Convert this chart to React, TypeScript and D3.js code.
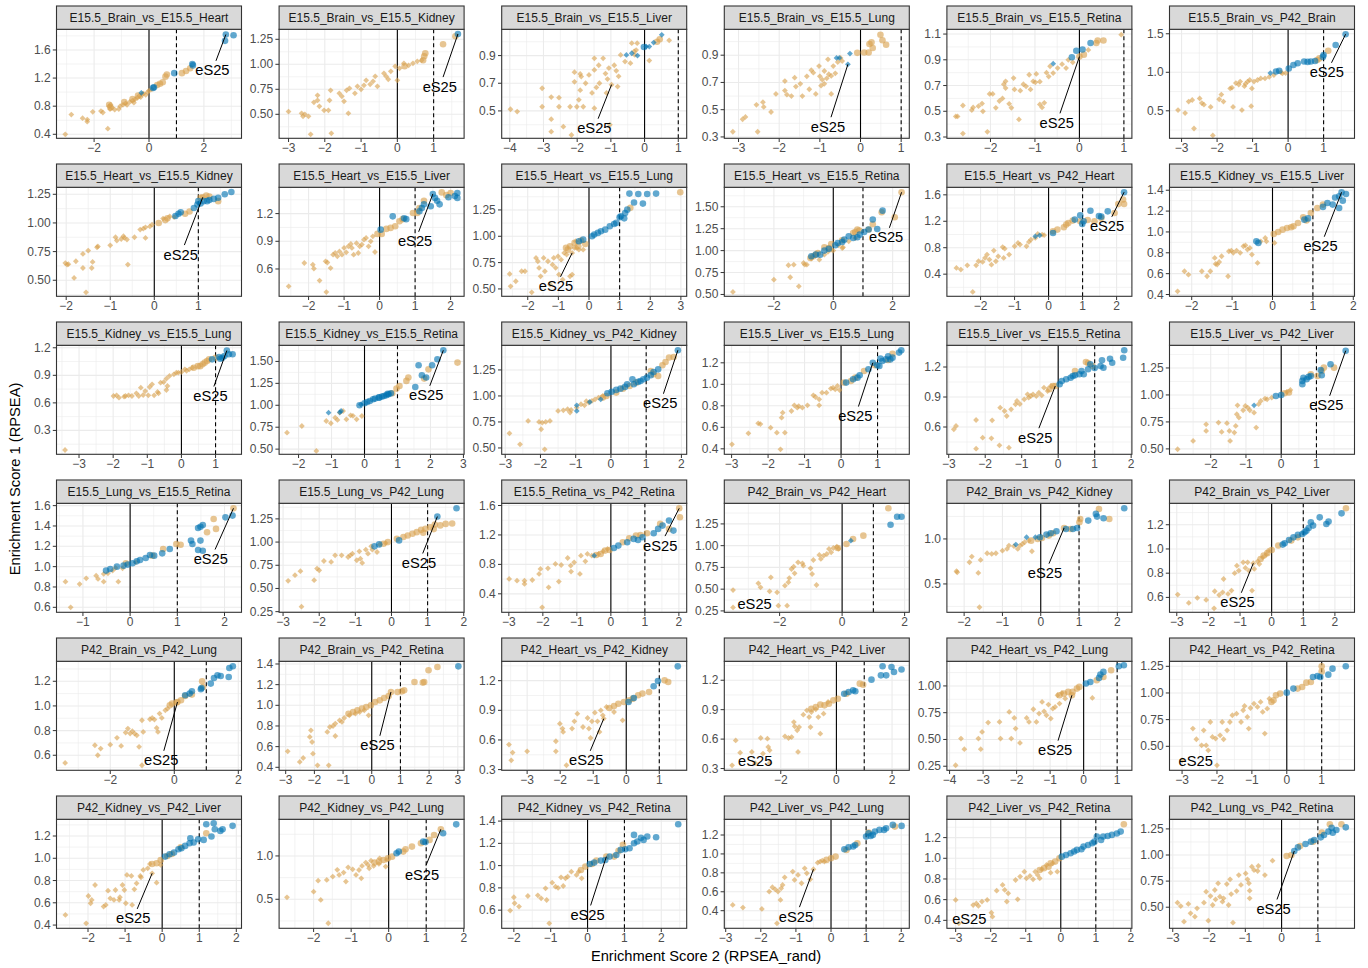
import React from 'react';
import * as d3 from 'd3';

// ---------------- DATA ----------------
const facetTitles: string[] = [
  'E15.5_Brain_vs_E15.5_Heart', 'E15.5_Brain_vs_E15.5_Kidney', 'E15.5_Brain_vs_E15.5_Liver', 'E15.5_Brain_vs_E15.5_Lung', 'E15.5_Brain_vs_E15.5_Retina', 'E15.5_Brain_vs_P42_Brain',
  'E15.5_Heart_vs_E15.5_Kidney', 'E15.5_Heart_vs_E15.5_Liver', 'E15.5_Heart_vs_E15.5_Lung', 'E15.5_Heart_vs_E15.5_Retina', 'E15.5_Heart_vs_P42_Heart', 'E15.5_Kidney_vs_E15.5_Liver',
  'E15.5_Kidney_vs_E15.5_Lung', 'E15.5_Kidney_vs_E15.5_Retina', 'E15.5_Kidney_vs_P42_Kidney', 'E15.5_Liver_vs_E15.5_Lung', 'E15.5_Liver_vs_E15.5_Retina', 'E15.5_Liver_vs_P42_Liver',
  'E15.5_Lung_vs_E15.5_Retina', 'E15.5_Lung_vs_P42_Lung', 'E15.5_Retina_vs_P42_Retina', 'P42_Brain_vs_P42_Heart', 'P42_Brain_vs_P42_Kidney', 'P42_Brain_vs_P42_Liver',
  'P42_Brain_vs_P42_Lung', 'P42_Brain_vs_P42_Retina', 'P42_Heart_vs_P42_Kidney', 'P42_Heart_vs_P42_Liver', 'P42_Heart_vs_P42_Lung', 'P42_Heart_vs_P42_Retina',
  'P42_Kidney_vs_P42_Liver', 'P42_Kidney_vs_P42_Lung', 'P42_Kidney_vs_P42_Retina', 'P42_Liver_vs_P42_Lung', 'P42_Liver_vs_P42_Retina', 'P42_Lung_vs_P42_Retina',
];

const xDomains: [number, number][] = [
  [-3.37, 3.37], [-3.26, 1.84], [-4.24, 1.25], [-3.35, 1.2], [-2.98, 1.18], [-3.34, 1.87],
  [-2.22, 1.98], [-2.83, 2.38], [-2.85, 3.19], [-3.67, 2.56], [-2.99, 2.45], [-2.55, 2.03],
  [-3.66, 1.76], [-2.59, 3.02], [-3.1, 2.15], [-3.2, 1.87], [-3.05, 2.02], [-3.17, 2.08],
  [-1.56, 2.36], [-3.11, 2.01], [-3.21, 2.23], [-3.77, 2.15], [-2.45, 2.38], [-3.23, 2.62],
  [-3.68, 2.1], [-3.23, 3.22], [-3.77, 1.83], [-4.03, 2.62], [-4.08, 1.44], [-3.36, 1.94],
  [-2.85, 2.14], [-2.92, 2.01], [-2.33, 2.69], [-3.04, 2.23], [-3.25, 2.03], [-3.09, 2.01],
];

const yDomains: [number, number][] = [
  [0.343, 1.894], [0.26, 1.35], [0.302, 1.09], [0.29, 1.09], [0.29, 1.137], [0.143, 1.558],
  [0.36, 1.311], [0.304, 1.485], [0.43, 1.465], [0.479, 1.722], [0.065, 1.714], [0.383, 1.428],
  [0.04, 1.227], [0.441, 1.684], [0.439, 1.487], [0.349, 1.363], [0.327, 1.417], [0.45, 1.46],
  [0.551, 1.623], [0.243, 1.418], [0.149, 1.63], [0.234, 1.487], [0.185, 1.396], [0.477, 1.377],
  [0.478, 1.362], [0.371, 1.426], [0.293, 1.396], [0.282, 1.393], [0.212, 1.23], [0.275, 1.297],
  [0.371, 1.35], [0.165, 1.423], [0.437, 1.416], [0.214, 1.366], [0.323, 1.377], [0.298, 1.342],
];

const xTickValues: number[][] = [
  [-2, 0, 2], [-3, -2, -1, 0, 1], [-4, -3, -2, -1, 0, 1], [-3, -2, -1, 0, 1], [-2, -1, 0, 1], [-3, -2, -1, 0, 1],
  [-2, -1, 0, 1], [-2, -1, 0, 1, 2], [-2, -1, 0, 1, 2, 3], [-2, 0, 2], [-2, -1, 0, 1, 2], [-2, -1, 0, 1, 2],
  [-3, -2, -1, 0, 1], [-2, -1, 0, 1, 2, 3], [-3, -2, -1, 0, 1, 2], [-3, -2, -1, 0, 1], [-3, -2, -1, 0, 1, 2], [-2, -1, 0, 1],
  [-1, 0, 1, 2], [-3, -2, -1, 0, 1, 2], [-3, -2, -1, 0, 1, 2], [-2, 0, 2], [-2, -1, 0, 1, 2], [-3, -2, -1, 0, 1, 2],
  [-2, 0, 2], [-3, -2, -1, 0, 1, 2, 3], [-3, -2, -1, 0, 1], [-2, 0, 2], [-4, -3, -2, -1, 0, 1], [-3, -2, -1, 0, 1],
  [-2, -1, 0, 1, 2], [-2, -1, 0, 1, 2], [-2, -1, 0, 1, 2], [-3, -2, -1, 0, 1, 2], [-3, -2, -1, 0, 1, 2], [-3, -2, -1, 0, 1],
];

const yTickValues: number[][] = [
  [0.4, 0.8, 1.2, 1.6], [0.5, 0.75, 1, 1.25], [0.5, 0.7, 0.9], [0.3, 0.5, 0.7, 0.9], [0.3, 0.5, 0.7, 0.9, 1.1], [0.5, 1, 1.5],
  [0.5, 0.75, 1, 1.25], [0.6, 0.9, 1.2], [0.5, 0.75, 1, 1.25], [0.5, 0.75, 1, 1.25, 1.5], [0.4, 0.8, 1.2, 1.6], [0.4, 0.6, 0.8, 1, 1.2, 1.4],
  [0.3, 0.6, 0.9, 1.2], [0.5, 0.75, 1, 1.25, 1.5], [0.5, 0.75, 1, 1.25], [0.4, 0.6, 0.8, 1, 1.2], [0.6, 0.9, 1.2], [0.5, 0.75, 1, 1.25],
  [0.6, 0.8, 1, 1.2, 1.4, 1.6], [0.25, 0.5, 0.75, 1, 1.25], [0.4, 0.8, 1.2, 1.6], [0.25, 0.5, 0.75, 1, 1.25], [0.5, 1], [0.6, 0.8, 1, 1.2],
  [0.6, 0.8, 1, 1.2], [0.4, 0.6, 0.8, 1, 1.2, 1.4], [0.3, 0.6, 0.9, 1.2], [0.3, 0.6, 0.9, 1.2], [0.25, 0.5, 0.75, 1], [0.5, 0.75, 1, 1.25],
  [0.4, 0.6, 0.8, 1, 1.2], [0.5, 1], [0.6, 0.8, 1, 1.2, 1.4], [0.4, 0.6, 0.8, 1, 1.2], [0.4, 0.6, 0.8, 1, 1.2], [0.5, 0.75, 1, 1.25],
];

const yTickDecimals: number[] = [
  1, 2, 1, 1, 1, 1,
  2, 1, 2, 2, 1, 1,
  1, 2, 2, 1, 1, 2,
  1, 2, 1, 2, 1, 1,
  1, 1, 1, 1, 2, 2,
  1, 1, 1, 1, 1, 2,
];

// flat [x, y, x, y, ...] per facet
const orangeDiamonds: number[][] = [
  [-3.05,0.40,-2.83,0.68,-2.42,0.63,-2.25,0.61,-2.25,0.58,-2.05,0.72,-1.75,0.73,-1.68,0.71,-1.5,0.48,-1.45,0.80,-1.42,0.76,-1.40,0.82,-1.35,0.78,-1.25,0.75,-1.1,0.76,-1.05,0.80,-0.95,0.82,-0.85,0.84,-0.8,0.82,-0.7,0.86,-0.6,0.88,-0.55,0.85,-0.5,0.90,-0.42,0.92,-0.35,0.95,-0.3,0.93,-0.25,0.97,-0.2,0.98,-0.12,0.96,-0.05,1.0,0.0,1.02,0.1,1.04],
  [-3.0,0.527,-2.64,0.51,-2.6,0.48,-2.55,0.50,-2.45,0.48,-2.39,0.30,-2.2,0.69,-2.2,0.64,-2.15,0.58,-2.02,0.54,-1.84,0.74,-1.87,0.64,-1.9,0.54,-1.82,0.31,-1.6,0.71,-1.53,0.68,-1.47,0.63,-1.35,0.51,-1.32,0.76,-1.1,0.78,-1.17,0.71,-0.92,0.79,-0.86,0.84,-0.67,0.83,-0.61,0.88,-0.55,0.78,-0.37,0.91,-0.31,0.88,-0.25,0.85,-0.18,0.93,-0.06,0.98,0,0.84,0.06,0.96,0.18,1.01,0.31,0.99,0.43,1.01,0.55,1.03,0.67,1.04,-1.4,0.74,-1.0,0.75,-0.75,0.80,-2.3,0.62],
  [-3.98,0.512,-3.78,0.495,-3.04,0.664,-3.04,0.53,-2.77,0.60,-2.77,0.44,-2.77,0.35,-2.54,0.596,-2.54,0.53,-2.41,0.386,-2.21,0.53,-2.17,0.326,-2.08,0.71,-2.08,0.78,-1.91,0.767,-1.91,0.65,-1.88,0.748,-1.95,0.58,-2.01,0.53,-1.82,0.53,-1.75,0.70,-1.65,0.76,-1.56,0.63,-1.49,0.52,-1.49,0.796,-1.49,0.88,-1.43,0.67,-1.36,0.83,-1.34,0.70,-1.23,0.88,-1.16,0.77,-1.13,0.63,-1.10,0.73,-1.06,0.81,-1.03,0.40,-0.9,0.83,-0.84,0.79,-0.8,0.676,-0.77,0.75,-0.71,0.905,-0.58,0.857,-0.42,0.845,-0.38,0.99,-0.29,0.905,-0.22,0.99,-0.25,0.94,0.14,0.864,-0.31,0.93,0.73,1.01,-0.98,0.69],
  [-3.14,0.338,-2.83,0.447,-2.9,0.43,-2.53,0.338,-2.56,0.536,-2.4,0.555,-2.38,0.52,-2.2,0.483,-2.08,0.616,-1.86,0.71,-1.86,0.64,-1.81,0.61,-1.7,0.60,-1.62,0.735,-1.59,0.67,-1.48,0.69,-1.43,0.60,-1.32,0.745,-1.26,0.65,-1.21,0.79,-1.16,0.772,-1.1,0.616,-1.0,0.745,-0.94,0.72,-0.89,0.784,-0.83,0.73,-0.8,0.87,-0.78,0.76,-0.72,0.748,-0.72,0.616,-0.67,0.82,-0.62,0.767,-0.56,0.85,-0.49,0.88,-0.45,0.857,-1.02,0.82,-0.97,0.676,-0.89,0.69],
  [0.94,1.095,-2.78,0.46,-2.74,0.46,-2.62,0.327,-2.62,0.545,-2.42,0.51,-2.39,0.53,-2.27,0.54,-2.19,0.56,-2.17,0.50,-2.07,0.34,-2.02,0.635,-1.95,0.635,-1.88,0.527,-1.8,0.58,-1.73,0.60,-1.7,0.71,-1.66,0.733,-1.66,0.68,-1.58,0.558,-1.53,0.527,-1.48,0.758,-1.46,0.67,-1.36,0.437,-1.33,0.66,-1.26,0.71,-1.2,0.694,-1.13,0.784,-1.1,0.67,-1.04,0.733,-0.99,0.725,-0.97,0.79,-0.89,0.73,-0.89,0.553,-0.84,0.53,-0.79,0.566,-0.74,0.80,-0.69,0.77,-0.66,0.85,-0.59,0.797,-0.49,0.836,-0.39,0.866,-0.3,0.836,-0.25,0.90,-0.15,0.88,0.2,0.977],
  [-3.1,0.51,-2.9,0.47,-2.8,0.62,-2.7,0.64,-2.65,0.27,-2.49,0.66,-2.43,0.60,-2.37,0.58,-2.18,0.55,-2.12,0.18,-1.94,0.65,-1.88,0.71,-1.82,0.62,-1.63,0.79,-1.58,0.80,-1.55,0.55,-1.47,0.86,-1.39,0.84,-1.35,0.88,-1.3,0.51,-1.23,0.82,-1.2,0.85,-1.14,0.88,-1.08,0.90,-1.02,0.79,-1.04,0.56,-0.96,0.88,-0.86,0.90,-0.77,0.92,-0.65,0.92,-0.53,0.94,-0.4,0.965,-0.16,0.985,-0.07,0.99,-0.2,1.0],
  [-2.02,0.65,-1.98,0.636,-1.95,0.64,-1.82,0.52,-1.78,0.666,-1.62,0.73,-1.62,0.607,-1.55,0.395,-1.5,0.759,-1.4,0.66,-1.42,0.607,-1.3,0.788,-1.28,0.795,-1.0,0.805,-0.88,0.875,-0.85,0.846,-0.75,0.86,-0.7,0.884,-0.68,0.87,-0.62,0.855,-0.6,0.637,-0.45,0.875,-0.32,0.942,-0.25,0.95,-0.2,0.962,-0.1,0.97,-0.05,0.985,-0.2,0.869,0.2,1.038,0.35,1.058,0.45,1.05],
  [-2.56,0.412,-2.12,0.665,-1.88,0.647,-1.85,0.604,-1.69,0.474,-1.5,0.35,-1.52,0.683,-1.47,0.67,-1.38,0.61,-1.31,0.755,-1.25,0.773,-1.19,0.737,-1.13,0.79,-1.06,0.755,-1.0,0.828,-0.94,0.78,-0.88,0.846,-0.81,0.871,-0.78,0.828,-0.73,0.755,-0.65,0.88,-0.56,0.846,-0.5,0.864,-0.44,0.918,-0.38,0.936,-0.25,0.90,-0.13,0.784,-0.31,0.846,-0.19,0.954,-0.6,0.773],
  [-2.59,0.642,-2.56,0.525,-2.39,0.573,-2.2,0.668,-2.09,0.668,-1.87,0.468,-1.73,0.794,-1.67,0.763,-1.63,0.699,-1.58,0.62,-1.48,0.794,-1.44,0.668,-1.34,0.763,-1.27,0.541,-1.19,0.73,-1.15,0.794,-1.09,0.70,-1.01,0.81,-0.98,0.636,-0.91,0.778,-0.86,0.589,-0.81,0.842,-0.73,0.826,-0.62,0.62,-0.55,0.636,-0.47,0.889,-0.43,0.953,-0.4,0.889,-0.33,0.873,-0.19,0.873,-0.55,0.842],
  [-3.38,0.529,-2.0,0.669,-1.51,0.833,-1.33,0.84,-1.45,0.696,-1.16,0.593,-0.96,0.84,-1.0,0.859,-0.89,0.84,-0.74,0.909,-0.47,0.897,-0.3,0.954,-0.18,0.985,-0.07,1.011,0.0,1.0,0.18,1.061,0.33,1.038,0.52,1.106,0.74,1.144,0.3,1.03],
  [-2.71,0.494,-2.58,0.469,-2.39,0.534,-2.23,0.131,-2.13,0.534,-2.06,0.595,-1.94,0.585,-1.87,0.645,-1.81,0.696,-1.74,0.62,-1.68,0.544,-1.61,0.756,-1.55,0.595,-1.48,0.67,-1.35,0.81,-1.32,0.645,-1.29,0.786,-1.16,0.696,-1.0,0.822,-0.9,0.872,-0.84,0.847,-0.65,0.822,-0.58,0.887,-0.52,0.922,-0.39,0.948,-0.32,1.008,-0.19,0.998,-0.13,0.99],
  [-2.35,0.431,-2.18,0.623,-2.08,0.59,-1.75,0.623,-1.62,0.575,-1.54,0.623,-1.43,0.751,-1.41,0.693,-1.37,0.687,-1.32,0.712,-1.26,0.767,-1.1,0.575,-1.08,0.815,-1.02,0.821,-0.97,0.80,-0.89,0.821,-0.8,0.80,-0.72,0.863,-0.67,0.872,-0.62,0.831,-0.56,0.847,-0.51,0.783,-0.37,0.703,-0.29,0.91,-0.18,0.942,-0.15,0.91,0.05,0.895],
  [-3.41,0.087,-1.99,0.675,-1.9,0.682,-1.83,0.657,-1.68,0.668,-1.64,0.675,-1.55,0.682,-1.45,0.675,-1.32,0.704,-1.25,0.675,-1.19,0.766,-1.12,0.686,-1.06,0.729,-0.97,0.682,-0.93,0.773,-0.86,0.802,-0.8,0.682,-0.7,0.719,-0.61,0.82,-0.52,0.827,-0.44,0.864,-0.41,0.784,-0.35,0.893,-0.22,0.911,-0.15,0.929,-0.09,0.929,0.0,0.936,0.1,0.965,0.23,0.965,0.32,0.983,-0.44,0.74,-0.67,0.704,0.15,0.95],
  [-2.35,0.688,-1.9,0.764,-1.46,0.479,-1.16,0.821,-1.02,0.795,-0.89,0.859,-0.82,0.833,-0.75,0.916,-0.65,0.935,-0.55,0.84,-0.42,0.886,-0.35,0.88,-0.24,0.84,-0.08,0.878],
  [-2.88,0.641,-2.58,0.535,-2.35,0.76,-2.04,0.75,-1.98,0.68,-1.95,0.743,-1.85,0.75,-1.88,0.487,-1.73,0.76,-1.5,0.856,-1.35,0.862,-1.23,0.872,-1.16,0.84,-1.13,0.865,-0.97,0.888,-0.85,0.92,-0.75,0.91,-0.63,0.936,-0.54,0.952,-0.45,0.968,-0.35,0.984,-0.23,1.0,-0.7,0.95],
  [-2.99,0.442,-2.54,0.544,-2.27,0.637,-2.21,0.63,-1.93,0.597,-1.76,0.55,-1.66,0.395,-1.6,0.736,-1.63,0.69,-1.54,0.55,-1.36,0.752,-1.28,0.805,-1.2,0.783,-1.16,0.798,-1.06,0.783,-0.92,0.805,-0.76,0.898,-0.7,0.882,-0.6,0.805,-0.6,0.86,-0.52,0.922,-0.4,0.922,-0.28,0.96,-0.22,0.969,-0.16,0.953,-0.1,0.985,-0.04,0.947],
  [-2.86,0.577,-2.8,0.61,-2.25,0.67,-2.25,0.383,-2.07,0.493,-1.83,0.487,-1.81,0.667,-1.61,0.417,-1.59,0.793,-1.47,0.76,-1.41,0.71,-1.35,0.393,-1.29,0.777,-1.17,0.827,-1.13,0.86,-1.05,0.83,-0.93,0.877,-0.84,0.927,-0.81,0.893,-0.75,0.91,-0.69,0.927,-0.6,0.91,-0.53,0.943,-0.45,0.917,-0.39,0.993,-0.29,0.96,-0.2,1.01],
  [-2.94,0.497,-2.5,0.574,-2.13,0.728,-2.13,0.667,-1.78,0.744,-1.69,0.657,-1.54,0.738,-1.47,0.667,-1.45,0.574,-1.33,0.651,-1.29,0.713,-1.26,0.821,-1.2,0.79,-1.08,0.858,-1.02,0.898,-0.95,0.883,-0.89,0.858,-0.77,0.836,-0.71,0.698,-0.64,0.914,-0.58,0.944,-0.46,0.966,-0.4,0.96,-0.27,0.975,0.16,1.028,0.26,1.046,-1.24,0.904],
  [-1.37,0.852,-1.07,0.829,-1.26,0.60,-0.93,0.885,-0.72,0.911,-0.68,0.879,-0.56,0.852,-0.56,0.928,-0.47,0.934,-0.37,0.961,-0.25,0.852,-0.31,0.987,-0.16,0.984,0.12,1.043],
  [-2.86,0.582,-2.67,0.643,-2.52,0.686,-2.49,0.304,-2.14,0.589,-2.06,0.714,-2.0,0.696,-1.87,0.796,-1.67,0.786,-1.56,0.857,-1.38,0.857,-1.2,0.839,-1.14,0.857,-1.08,0.875,-0.96,0.804,-0.89,0.90,-0.86,0.821,-0.81,0.775,-0.71,0.918,-0.65,0.875,-0.56,0.954,-0.53,0.918,-0.4,0.893,-0.32,0.975,-0.16,0.989],
  [-2.99,0.602,-2.76,0.579,-2.54,0.579,-2.54,0.534,-2.31,0.588,-2.11,0.67,-2.07,0.738,-2.02,0.217,-1.85,0.747,-1.83,0.489,-1.63,0.806,-1.53,0.566,-1.46,0.792,-1.27,0.887,-1.18,0.783,-1.17,0.702,-1.08,0.828,-0.91,0.67,-0.88,0.919,-0.75,0.842,-0.69,0.942,-0.56,0.919,-0.36,0.942,-0.23,0.978,-0.1,1.01],
  [-3.49,0.49,-3.49,0.29,-2.68,0.567,-2.61,0.521,-2.32,0.475,-2.28,0.636,-2.08,0.464,-2.04,0.31,-1.76,0.31,-1.83,0.54,-1.72,0.579,-1.69,0.628,-1.62,0.732,-1.55,0.759,-1.52,0.682,-1.41,0.808,-1.27,0.797,-1.24,0.77,-1.01,0.74,-0.96,0.674,-0.92,0.835,-0.82,0.548,-0.73,0.893,-0.68,0.847,-0.59,0.885,-0.49,0.904,-0.42,0.962,-0.35,0.923,-0.28,0.973,-0.17,0.988,-0.11,0.962],
  [-2.2,0.641,-2.18,0.63,-1.8,0.804,-1.86,0.741,-1.57,0.767,-1.63,0.622,-1.6,0.241,-1.4,0.841,-1.28,0.833,-1.17,0.841,-1.0,0.87,-0.88,0.889,-0.83,0.926,-0.54,0.926,-0.48,0.944,-0.42,0.963,-0.31,0.981,-0.23,0.863,-0.6,0.889,-0.7,0.92],
  [-2.97,0.623,-2.62,0.554,-2.35,0.596,-2.07,0.579,-1.82,0.51,-1.8,0.651,-1.66,0.62,-1.55,0.642,-1.52,0.752,-1.38,0.629,-1.27,0.656,-1.17,0.80,-1.1,0.862,-1.04,0.821,-0.9,0.89,-0.83,0.843,-0.76,0.89,-0.72,0.821,-0.62,0.656,-0.55,0.835,-0.44,0.898,-0.39,0.876,-0.28,0.931,-0.17,0.953,-0.11,0.986,-0.58,0.882],
  [-3.41,0.538,-2.48,0.681,-2.39,0.60,-2.3,0.654,-2.0,0.686,-1.79,0.741,-1.66,0.676,-1.52,0.784,-1.45,0.816,-1.38,0.776,-1.31,0.795,-1.24,0.776,-1.17,0.762,-1.1,0.668,-1.01,0.884,-0.97,0.789,-1.01,0.519,-0.76,0.892,-0.69,0.903,-0.62,0.889,-0.55,0.822,-0.51,0.789,-0.46,0.938,-0.39,0.903,-0.28,0.965,-0.21,0.978],
  [-2.93,0.555,-2.51,0.452,-2.39,0.49,-2.12,0.758,-2.16,0.694,-2.08,0.645,-2.05,0.532,-1.89,0.419,-1.5,0.419,-1.55,0.742,-1.46,0.79,-1.27,0.703,-1.12,0.855,-1.04,0.839,-0.96,0.877,-0.78,0.903,-0.57,0.919,-0.42,0.935,-0.26,0.952,-0.11,0.903,-1.27,0.823,-1.35,0.80],
  [-3.55,0.553,-3.44,0.472,-3.48,0.394,-3.0,0.485,-2.13,0.587,-2.13,0.485,-2.01,0.765,-1.93,0.715,-1.91,0.681,-1.81,0.344,-1.64,0.715,-1.57,0.789,-1.48,0.866,-1.31,0.731,-1.17,0.822,-1.13,0.715,-1.04,0.789,-0.95,0.876,-0.87,0.789,-0.81,0.681,-0.77,0.90,-0.71,0.849,-0.6,0.934,-0.37,0.883,-0.11,0.799,-1.08,0.62,-0.68,0.816],
  [-3.75,0.333,-3.62,0.587,-3.46,0.462,-3.04,0.469,-2.92,0.356,-2.72,0.611,-2.64,0.452,-2.48,0.604,-2.45,0.52,-2.4,0.486,-2.4,0.356,-1.85,0.628,-1.72,0.611,-1.61,0.621,-1.53,0.774,-1.5,0.73,-1.41,0.69,-1.38,0.469,-1.19,0.849,-1.06,0.893,-0.98,0.825,-0.93,0.723,-0.9,0.876,-0.74,0.903,-0.65,0.825,-0.58,0.655,-0.46,0.859,-0.3,0.978,-1.34,0.723],
  [-3.82,0.259,-3.66,0.508,-3.56,0.409,-3.14,0.508,-3.07,0.409,-3.03,0.57,-2.85,0.658,-2.51,0.664,-2.48,0.508,-2.22,0.757,-2.16,0.508,-2.07,0.701,-2.03,0.602,-1.9,0.468,-1.7,0.701,-1.63,0.664,-1.5,0.782,-1.41,0.664,-1.33,0.742,-1.24,0.851,-1.18,0.763,-1.11,0.726,-1.05,0.826,-0.98,0.695,-0.92,0.788,-0.85,0.804,-0.78,0.913,-0.72,0.835,-0.65,0.935,-0.55,0.882,0.26,0.888],
  [-3.0,0.369,-2.69,0.666,-2.59,0.566,-2.44,0.509,-2.38,0.65,-2.31,0.509,-2.25,0.462,-2.19,0.728,-2.13,0.588,-2.04,0.572,-2.0,0.322,-1.91,0.603,-1.85,0.728,-1.81,0.566,-1.71,0.65,-1.63,0.728,-1.56,0.791,-1.44,0.806,-1.31,0.728,-1.25,0.838,-1.21,0.878,-1.13,0.775,-1.09,0.666,-1.04,0.859,-0.94,0.90,-0.84,0.869,-0.75,0.916,-0.69,0.822,-0.63,0.619,-0.56,0.853,-0.5,0.947],
  [-2.61,0.491,-2.05,0.416,-1.99,0.661,-1.93,0.596,-1.9,0.626,-1.81,0.76,-1.58,0.566,-1.52,0.581,-1.46,0.709,-1.4,0.64,-1.3,0.626,-1.26,0.715,-1.16,0.626,-1.14,0.65,-1.07,0.76,-1.02,0.715,-0.98,0.596,-0.95,0.85,-0.83,0.841,-0.81,0.581,-0.75,0.721,-0.69,0.775,-0.59,0.841,-0.57,0.829,-0.51,0.895,-0.39,0.91,-0.33,0.949,-0.15,0.781,-0.04,0.94,-0.27,0.865],
  [-2.71,0.523,-2.0,0.588,-1.81,0.492,-1.88,0.715,-1.65,0.723,-1.61,0.223,-1.49,0.762,-1.32,0.781,-1.2,0.808,-1.14,0.704,-1.08,0.869,-0.96,0.846,-0.87,0.781,-0.79,0.838,-0.73,0.742,-0.71,0.885,-0.61,0.923,-0.55,0.896,-0.52,0.858,-0.47,0.946,-0.4,0.885,-0.26,0.908,-0.24,0.973,-0.08,0.877,-0.05,0.954,-1.37,0.84],
  [-2.1,0.596,-2.0,0.716,-1.98,0.662,-1.86,0.632,-1.62,0.727,-1.35,0.733,-1.26,0.706,-1.14,0.796,-1.11,0.691,-1.04,0.482,-0.96,0.847,-0.87,0.811,-0.72,0.895,-0.66,0.817,-0.6,0.886,-0.54,0.901,-0.44,0.946,-0.3,0.916,-0.24,0.946,-0.16,0.886,-0.8,0.8],
  [-2.8,0.461,-2.51,0.433,-1.97,0.419,-1.76,0.602,-1.67,0.648,-1.59,0.626,-1.51,0.602,-1.54,0.267,-1.44,0.514,-1.42,0.637,-1.38,0.672,-1.32,0.753,-1.09,0.813,-1.04,0.725,-0.94,0.778,-0.84,0.69,-0.75,0.848,-0.69,0.796,-0.59,0.732,-0.5,0.838,-0.38,0.908,-0.31,0.919,-0.25,0.93,-0.19,0.919],
  [-3.0,0.597,-2.91,0.371,-2.5,0.548,-2.41,0.564,-2.35,0.539,-2.25,0.581,-2.1,0.597,-1.98,0.474,-1.95,0.435,-1.83,0.687,-1.66,0.742,-1.6,0.694,-1.54,0.581,-1.5,0.661,-1.29,0.79,-1.23,0.603,-1.16,0.823,-1.04,0.871,-0.98,0.806,-0.88,0.829,-0.79,0.797,-0.73,0.871,-0.66,0.839,-0.6,0.806,-0.54,0.894,-0.41,0.935,-0.29,0.861,-0.23,0.952,-0.1,0.871],
  [-2.87,0.543,-2.78,0.511,-2.57,0.531,-2.69,0.361,-2.51,0.441,-2.39,0.409,-2.33,0.489,-2.14,0.543,-2.08,0.649,-2.02,0.371,-1.96,0.607,-1.9,0.521,-1.84,0.665,-1.82,0.575,-1.75,0.729,-1.7,0.601,-1.63,0.553,-1.6,0.585,-1.51,0.722,-1.46,0.521,-1.42,0.767,-1.39,0.626,-1.34,0.352,-1.24,0.655,-1.18,0.808,-1.12,0.713,-0.99,0.824,-0.94,0.767,-0.9,0.729,-0.88,0.658,-0.88,0.585,-0.82,0.888,-0.76,0.856,-0.66,0.847,-0.64,0.895,-0.46,0.808,-0.25,0.946],
];

const orangeCircles: number[][] = [
  [-1.45,0.82,-1.4,0.78,-0.9,0.86,-0.6,0.9,-0.4,0.95,0.3,1.1,0.4,1.12,0.5,1.14,0.6,1.22,0.65,1.25,1.2,1.27,1.35,1.30,1.5,1.34],
  [1.6,1.28,1.26,1.2,0.77,1.11,0.74,1.08,0.71,1.04,0.2,0.98],
  [0.37,1.0,0.45,1.018],
  [0.22,0.982,0.27,0.994,0.3,0.953,0.49,1.05,0.54,1.01,0.63,0.977,-0.08,0.917,0.09,0.92,0.2,0.92],
  [0.38,1.03,0.41,1.05,0.54,1.05,0.1,0.94,0.0,0.925],
  [1.13,1.28,0.88,1.18,0.82,1.16],
  [1.18,1.24,1.25,1.23,1.45,1.19,1.05,1.22,0.8,1.1,0.7,1.08,0.3,1.04,0.25,1.025,0.1,1.0,1.1,1.224],
  [1.75,1.43,2.0,1.424,1.88,1.40,1.25,1.34,1.12,1.26,1.06,1.207,0.94,1.207,0.65,1.14,0.56,1.117,0.44,1.063,0.31,1.045,0.19,1.034,-0.06,0.98,0.06,0.98],
  [2.98,1.418,1.35,1.27,-0.12,0.927,-0.26,0.959,-0.47,0.937,-0.62,0.905,-0.75,0.89,-0.69,0.873,-0.35,0.905],
  [2.3,1.665,2.07,1.38,1.63,1.437,1.33,1.30,1.19,1.24,0.81,1.24,0.88,1.23,0.74,1.213,0.67,1.20,0.3,1.118,-0.07,1.076,-0.3,1.038,-0.15,1.03,-0.52,0.973,-0.67,0.935,-0.77,0.916,-0.59,0.955],
  [2.22,1.462,2.19,1.53,2.05,1.46,1.94,1.326,1.55,1.25,1.35,1.20,1.15,1.22,0.93,1.20,0.71,1.21,0.58,1.175,0.45,1.109,0.52,1.15,0.26,1.074,0.13,1.049],
  [1.25,1.262,1.11,1.23,0.95,1.182,0.76,1.14,0.84,1.11,0.63,1.086,0.52,1.054,0.46,1.045,0.36,1.038,0.25,1.022,0.14,1.0,0.03,0.98],
  [1.0,1.092,0.81,1.074,0.75,1.056,0.68,1.038,0.62,1.02,0.55,1.0,0.48,1.0,0.36,0.983],
  [2.82,1.487,1.94,1.41,1.81,1.304,1.33,1.316,1.27,1.278,1.06,1.22,0.97,1.19,0.84,1.137],
  [1.78,1.375,1.65,1.369,1.55,1.327,1.46,1.295,1.34,1.192,1.21,1.208,1.13,1.24,0.71,1.128,0.53,1.096,0.34,1.07,0.15,1.032,-0.13,1.0,-0.23,0.984],
  [1.41,1.285,1.29,1.226,0.93,1.177,0.63,1.124,0.39,1.062,0.27,1.031,0.08,1.016],
  [0.76,1.25,0.82,1.24,0.46,1.16,0.94,1.21,-0.14,1.01,-0.24,0.977,-0.08,1.01],
  [1.5,1.253,1.21,1.253,1.15,1.222,1.03,1.176,0.84,1.191,0.22,1.022,0.1,1.015],
  [2.19,1.574,1.77,1.469,1.82,1.371,1.63,1.338,0.98,1.223,1.07,1.216,0.7,1.174,0.47,1.108,-0.09,1.033],
  [1.68,1.20,1.5,1.196,1.35,1.18,1.2,1.19,1.07,1.16,0.94,1.143,0.82,1.132,0.7,1.107,0.58,1.09,0.45,1.071,0.33,1.054,0.15,1.036,-0.1,1.0,-0.22,0.982,0.88,1.1,1.17,1.14],
  [2.01,1.562,2.03,1.44,1.71,1.282,1.45,1.35,1.06,1.223,0.87,1.20,0.74,1.191,0.54,1.155,0.35,1.10,-0.04,0.996,-0.17,0.987,-0.3,0.942,-0.43,0.928],
  [1.48,1.43,0.68,1.115,0.35,1.077,0.14,1.019,-0.14,0.973],
  [1.52,1.333,1.79,1.222,1.03,1.222,1.01,1.185,0.78,1.111,0.32,1.063,0.21,1.037,0.03,1.011,-0.08,1.0,-0.25,0.981,0.61,1.122],
  [2.35,1.336,0.83,1.096,0.62,1.069,0.21,1.028,0.0,0.992,-0.14,0.964,-0.25,0.945,-0.35,0.917],
  [0.87,1.20,0.9,1.154,0.55,1.092,0.34,1.081,0.21,1.046,0.07,1.027,-0.07,1.019,-0.14,1.005,0.1,1.032],
  [2.29,1.371,1.98,1.339,1.83,1.226,1.78,1.22,1.49,1.226,1.05,1.135,1.13,1.145,0.9,1.129,0.67,1.129,0.59,1.09,0.43,1.071,0.28,1.048,0.12,1.032,-0.03,1.0,-0.19,0.984,-0.34,0.968,-0.5,0.952,-0.65,0.935,-0.81,0.919],
  [1.16,1.203,1.27,1.187,0.69,1.085,0.49,1.069,0.36,1.052,0.2,1.018,0.09,1.001,-0.07,0.984,-0.24,0.967,-0.37,0.944,-0.51,0.924],
  [0.84,1.165,0.96,1.155,0.36,1.063,0.05,1.012,-0.11,0.995,-0.27,0.961,-0.43,0.944,-0.58,0.951,-0.74,0.927,-0.9,0.91],
  [0.82,1.146,0.59,1.084,0.39,1.053,-0.13,0.991,-0.2,0.975,-0.33,0.944,-0.46,0.944,-0.59,0.928,-0.72,0.913,-0.35,0.913],
  [1.0,1.25,1.0,1.2,0.69,1.103,0.56,1.097,0.44,1.056,0.31,1.041,-0.19,0.994,-0.31,0.978,-0.38,0.931,-0.44,0.916],
  [1.19,1.225,0.5,1.099,0.26,1.039,0.14,1.021,-0.04,0.985,-0.15,0.955,-0.27,0.949],
  [1.39,1.308,1.21,1.242,1.09,1.185,0.86,1.146,0.62,1.108,0.45,1.077,0.39,1.05,0.09,0.992,-0.02,0.973,-0.14,0.954,-0.26,0.935,-0.38,0.923],
  [0.96,1.186,0.84,1.132,0.72,1.081,0.24,1.045,0.12,1.015,-0.06,0.991,-0.18,0.961,0.51,1.081],
  [1.82,1.289,1.07,1.226,0.75,1.113,0.44,1.042,0.13,0.972,0.0,0.954,-0.13,0.937],
  [1.8,1.329,-0.04,1.0,-0.16,0.968,-0.29,0.952,-0.35,0.919,-0.48,0.903,-0.6,0.887],
  [1.65,1.294,1.33,1.294,1.11,1.214,0.87,1.128,0.51,1.086,0.27,1.0,0.14,0.99],
];

const blueDiamonds: number[][] = [
  [-0.28,0.99],
  [],
  [-0.21,0.90,-0.38,0.917,-0.54,0.905,0.14,0.965,0.05,0.965,0.27,0.994,0.51,1.05],
  [-0.26,0.912,-0.31,0.833,-0.59,0.88,-0.52,0.88],
  [-0.59,0.87],
  [-0.5,0.99],
  [], [], [], [],
  [-0.26,0.988,-0.39,0.973],
  [],
  [],
  [-0.71,0.935,-1.09,0.916,-0.11,1.011,-0.75,0.92],
  [-0.29,0.968,-0.97,0.91,-0.97,0.856,-0.6,0.942],
  [], [],
  [-0.77,0.904],
  [], [],
  [-0.49,0.919],
  [0.28,1.057],
  [-0.65,0.937,-0.37,1.019,-0.14,1.019],
  [], [], [], [], [], [], [], [], [], [], [], [], [],
];

const blueCircles: number[][] = [
  [0.15,1.06,0.18,1.07,0.92,1.27,1.58,1.40,1.6,1.38,2.77,1.73,3.08,1.81,2.8,1.82],
  [1.67,1.303],
  [-0.02,0.962],
  [],
  [-0.17,0.92,-0.07,0.97,0.07,0.98,0.25,1.03],
  [1.62,1.494,1.34,1.355,1.0,1.225,0.98,1.2,0.64,1.14,0.45,1.14,0.55,1.135,0.76,1.147,0.27,1.117,0.02,1.05,0.15,1.095,-0.25,1.02,-0.34,1.01],
  [1.75,1.27,1.6,1.25,1.45,1.22,1.35,1.21,1.25,1.2,1.2,1.19,1.12,1.19,1.0,1.19,0.98,1.16,1.05,1.17,0.9,1.13,0.6,1.093,0.55,1.08,0.48,1.06],
  [2.19,1.424,2.12,1.39,2.19,1.37,1.94,1.377,1.56,1.37,1.62,1.34,1.69,1.30,1.44,1.28,1.25,1.30,1.19,1.26,1.12,1.225,0.37,1.17,0.75,1.14,0.69,1.15,0.03,1.026,1.5,1.413],
  [1.32,1.405,1.61,1.402,1.9,1.402,2.19,1.405,1.47,1.32,1.76,1.31,1.25,1.253,1.18,1.22,1.15,1.17,1.04,1.19,1.0,1.18,0.89,1.127,0.82,1.117,0.68,1.095,0.53,1.063,0.39,1.047,0.29,1.032,0.17,1.016,0.1,1.0,-0.19,0.968,-0.33,0.953],
  [1.66,1.456,1.33,1.354,1.48,1.247,1.19,1.24,1.04,1.213,0.89,1.182,0.81,1.152,0.67,1.144,0.52,1.163,0.37,1.125,0.3,1.099,0.15,1.087,0.07,1.061,-0.15,1.02,-0.3,1.0,-0.44,0.954,-0.59,0.954,-0.74,0.935],
  [2.22,1.64,1.23,1.36,1.74,1.35,1.48,1.28,1.55,1.27,0.93,1.29,0.99,1.16,1.03,1.20,0.77,1.225,0.13,1.023],
  [1.71,1.38,1.82,1.364,1.65,1.342,1.74,1.30,1.55,1.33,1.65,1.23,1.49,1.262,1.36,1.278,1.25,1.24,0.79,1.118,0.88,1.13,-0.4,0.91,-0.35,0.895],
  [1.33,1.17,1.39,1.13,1.5,1.13,1.26,1.11,1.2,1.092,1.14,1.08,1.1,1.1,0.9,1.074],
  [2.39,1.627,2.21,1.525,2.05,1.456,1.64,1.456,1.74,1.342,1.87,1.316,1.54,1.209,0.8,1.137,0.73,1.125,0.66,1.114,0.59,1.106,0.53,1.099,0.43,1.087,0.32,1.076,0.26,1.068,0.16,1.049,0.08,1.038,0.0,1.023,-0.15,1.0,0.7,1.13,0.45,1.09],
  [1.9,1.44,1.34,1.256,1.21,1.23,1.13,1.20,1.02,1.176,0.92,1.16,0.84,1.144,0.77,1.135,0.65,1.112,0.61,1.16,0.46,1.112,0.4,1.087,0.27,1.07,0.15,1.058,0.02,1.04,-0.1,1.026],
  [1.65,1.316,1.59,1.295,1.41,1.248,1.35,1.232,1.23,1.232,1.13,1.217,1.08,1.24,1.05,1.17,0.99,1.177,0.87,1.2,0.75,1.14,0.51,1.084,0.45,1.062,0.33,1.047,0.14,1.016,1.29,1.26],
  [1.81,1.367,1.78,1.293,1.42,1.283,1.48,1.243,1.2,1.267,1.16,1.21,1.24,1.193,0.88,1.227,0.82,1.177,0.7,1.127,0.64,1.16,0.58,1.127,0.46,1.117,0.4,1.11,0.34,1.093,0.22,1.077,0.1,1.06,0.04,1.027,1.0,1.19],
  [1.83,1.41,1.4,1.284,1.15,1.182,1.12,1.23,0.84,1.176,0.78,1.167,0.72,1.145,0.63,1.16,0.6,1.13,0.6,1.099,0.0,1.0,-0.15,0.99],
  [2.17,1.502,2.02,1.485,1.49,1.393,1.54,1.41,1.44,1.38,1.29,1.256,1.32,1.223,1.44,1.164,1.54,1.157,1.49,1.256,0.84,1.174,0.68,1.131,0.51,1.108,0.42,1.115,0.33,1.085,0.21,1.066,0.14,1.052,0.05,1.033,-0.05,1.02,-0.14,1.01,-0.28,1.0,-0.42,0.977,-0.51,0.961],
  [1.8,1.364,1.27,1.275,0.21,1.018,-0.34,0.975,-0.47,0.954],
  [1.71,1.395,1.84,1.259,1.52,1.327,1.39,1.282,1.26,1.223,0.93,1.168,0.8,1.132,0.67,1.146,0.48,1.10,0.22,1.055,0.09,1.023],
  [1.55,1.241,1.76,1.333,1.9,1.333],
  [2.18,1.341,1.44,1.278,1.47,1.248,1.64,1.23,1.24,1.204,0.95,1.122,0.84,1.111,0.66,1.111,0.41,1.085,0.26,1.063,0.15,1.048,-0.02,1.019],
  [2.21,1.294,1.8,1.226,1.73,1.206,1.52,1.261,1.24,1.22,1.31,1.193,1.17,1.173,1.1,1.151,1.04,1.138,0.97,1.124,0.83,1.116,0.69,1.096,0.55,1.074,0.41,1.047,0.35,1.036],
  [1.83,1.322,1.72,1.308,1.35,1.249,1.45,1.243,1.24,1.227,1.14,1.181,1.7,1.235,0.83,1.135,0.85,1.145,0.55,1.119,0.48,1.10,0.34,1.087],
  [3.02,1.377],
  [1.56,1.345,0.96,1.197,0.83,1.143,0.23,1.025,0.07,0.984],
  [1.66,1.342,1.98,1.335,2.07,1.284,2.34,1.31,1.79,1.25,1.6,1.25,1.26,1.206,0.6,1.097,0.68,1.087,0.44,1.08,0.28,1.063],
  [1.05,1.184,1.2,1.193,0.59,1.131,0.5,1.106,0.46,1.075,0.2,1.037,0.07,1.022],
  [1.69,1.25,1.31,1.228,1.19,1.172,0.96,1.15,0.88,1.159,0.75,1.15,0.19,1.041,0.0,1.003],
  [1.19,1.306,1.39,1.315,1.42,1.261,1.57,1.246,1.63,1.261,1.9,1.291,1.33,1.195,1.12,1.165,0.97,1.171,0.85,1.141,0.76,1.18,0.74,1.135,0.62,1.111,0.52,1.09,0.44,1.081,0.32,1.051,0.2,1.036,0.08,1.015],
  [1.8,1.365,1.45,1.262,0.92,1.165,0.98,1.16,0.27,1.05,0.21,1.031],
  [2.46,1.371,1.86,1.255,1.62,1.261,1.52,1.231,1.26,1.276,1.35,1.216,1.26,1.201,1.14,1.156,1.02,1.147,0.9,1.141,0.78,1.096,0.6,1.081,0.48,1.051,0.36,1.045,0.18,1.027,0.06,1.015,1.45,1.25],
  [2.01,1.296,1.76,1.307,1.57,1.271,1.51,1.254,1.38,1.254,1.25,1.236,1.19,1.201,1.07,1.218,1.0,1.183,1.13,1.19,0.69,1.095,0.63,1.078,0.5,1.07,0.38,1.049],
  [1.71,1.258,1.46,1.226,1.34,1.216,1.21,1.21,1.15,1.177,1.03,1.21,0.96,1.161,0.9,1.145,0.78,1.129,0.65,1.113,0.59,1.087,0.46,1.081,0.38,1.065,0.28,1.048,0.15,1.032,0.03,1.016,1.6,1.24],
  [1.77,1.265,1.51,1.239,1.41,1.214,1.29,1.224,1.17,1.192,1.08,1.169,0.9,1.144,0.81,1.128,0.66,1.105,0.45,1.073,0.35,1.038,1.38,1.26],
];

// eS25 gene set: point it labels, and where its label sits
const es25Point: [number, number][] = [
  [2.8,1.82],[1.67,1.303],[-0.98,0.69],[-0.31,0.833],[0.0,0.925],[1.62,1.494],
  [1.1,1.224],[1.5,1.413],[-0.55,0.842],[2.3,1.665],[2.22,1.64],[1.71,1.38],
  [1.33,1.17],[2.39,1.627],[1.9,1.44],[0.87,1.2],[-0.08,1.01],[1.83,1.41],
  [2.19,1.574],[1.27,1.275],[2.01,1.562],[-3.49,0.29],[0.61,1.122],[-0.58,0.882],
  [0.1,1.032],[0.67,1.129],[-0.68,0.816],[-3.75,0.333],[-0.35,0.913],[-3.0,0.369],
  [-0.27,0.865],[1.39,1.308],[0.51,1.081],[-0.5,0.838],[-2.91,0.371],[0.35,1.038],
];
const es25Label: [number, number][] = [
  [2.31,1.31],[1.17,0.777],[-1.49,0.375],[-0.8,0.375],[-0.51,0.41],[1.09,1.0],
  [0.6,0.724],[1.0,0.9],[-1.08,0.525],[1.78,1.152],[1.72,1.124],[1.19,0.863],
  [0.85,0.675],[1.87,1.114],[1.4,0.93],[0.39,0.705],[-0.63,0.493],[1.28,0.904],
  [1.71,1.075],[0.76,0.775],[1.45,1.055],[-2.8,0.33],[0.11,0.62],[-1.08,0.56],
  [-0.41,0.559],[0.2,0.613],[-1.21,0.394],[-2.92,0.373],[-0.85,0.40],[-2.61,0.363],
  [-0.78,0.46],[0.89,0.78],[0.0,0.557],[-1.0,0.337],[-2.61,0.41],[-0.22,0.483],
];
const labelText = 'eS25';
const xAxisTitle = 'Enrichment Score 2 (RPSEA_rand)';
const yAxisTitle = 'Enrichment Score 1 (RPSEA)';

// ---------------- LAYOUT / STYLE ----------------
const W = 1368, H = 968;
const LEFT0 = 56.5, COL_STEP = 222.6, PANEL_W = 185;
const TOP0 = 6, ROW_STEP = 158, STRIP_H = 23.3, PLOT_H = 109;
const FONT = '"Liberation Sans", Arial, Helvetica, sans-serif';
const ORANGE = '#D9A24F';
const BLUE = '#0072B2';
const PT_OPACITY = 0.62;
const TICK = 3.7;

function pairs(a: number[]): [number, number][] {
  const out: [number, number][] = [];
  for (let k = 0; k + 1 < a.length; k += 2) out.push([a[k], a[k + 1]]);
  return out;
}
function minus(s: string) { return s.replace('-', '\u2212'); }
function minorBreaks(ticks: number[], dom: [number, number]) {
  const out: number[] = [];
  if (ticks.length < 2) return out;
  const step = ticks[1] - ticks[0];
  for (let v = ticks[0] - step; v <= ticks[ticks.length - 1] + 1e-9; v += step) {
    const m = v + step / 2;
    if (m > dom[0] && m < dom[1]) out.push(m);
  }
  return out;
}
const diamond = (s: number) => `M0,${-s}L${s},0L0,${s}L${-s},0Z`;

function Facet({ i }: { i: number }) {
  const col = i % 6, row = Math.floor(i / 6);
  const left = LEFT0 + col * COL_STEP, right = left + PANEL_W;
  const stripTop = TOP0 + row * ROW_STEP;
  const top = stripTop + STRIP_H, bottom = top + PLOT_H;
  const xd = xDomains[i], yd = yDomains[i];
  const x = d3.scaleLinear().domain(xd).range([left, right]);
  const y = d3.scaleLinear().domain(yd).range([bottom, top]);
  const xt = xTickValues[i], yt = yTickValues[i];
  const xm = minorBreaks(xt, xd), ym = minorBreaks(yt, yd);

  const [lx, ly] = es25Label[i];
  const [tx, ty] = es25Point[i];
  const cx = x(lx), cy = y(ly), px = x(tx), py = y(ty);
  const hw = 19.5, hh = 9.5;
  const dx = px - cx, dy = py - cy;
  const t = Math.min(dx !== 0 ? hw / Math.abs(dx) : Infinity, dy !== 0 ? hh / Math.abs(dy) : Infinity);
  const segLen = Math.hypot(dx, dy) * (1 - t);
  const showSeg = t < 1 && segLen > 4;

  const dPath = diamond(2.9);
  return (
    <g>
      <rect x={left} y={top} width={PANEL_W} height={PLOT_H} fill="#FFFFFF" />
      {xm.map((v) => <line key={'xm' + v} x1={x(v)} x2={x(v)} y1={top} y2={bottom} stroke="#EBEBEB" strokeWidth={0.6} />)}
      {ym.map((v) => <line key={'ym' + v} x1={left} x2={right} y1={y(v)} y2={y(v)} stroke="#EBEBEB" strokeWidth={0.6} />)}
      {xt.map((v) => <line key={'xg' + v} x1={x(v)} x2={x(v)} y1={top} y2={bottom} stroke="#EBEBEB" strokeWidth={1.1} />)}
      {yt.map((v) => <line key={'yg' + v} x1={left} x2={right} y1={y(v)} y2={y(v)} stroke="#EBEBEB" strokeWidth={1.1} />)}
      <line x1={x(0)} x2={x(0)} y1={top} y2={bottom} stroke="#000" strokeWidth={1.1} />
      <line x1={x(1)} x2={x(1)} y1={top} y2={bottom} stroke="#000" strokeWidth={1.1} strokeDasharray="4,3" />
      {pairs(orangeDiamonds[i]).map(([a, b], k) => (
        <path key={'od' + k} d={dPath} transform={`translate(${x(a)},${y(b)})`} fill={ORANGE} fillOpacity={PT_OPACITY} />
      ))}
      {pairs(orangeCircles[i]).map(([a, b], k) => (
        <circle key={'oc' + k} cx={x(a)} cy={y(b)} r={3.3} fill={ORANGE} fillOpacity={PT_OPACITY} />
      ))}
      {pairs(blueDiamonds[i]).map(([a, b], k) => (
        <path key={'bd' + k} d={dPath} transform={`translate(${x(a)},${y(b)})`} fill={BLUE} fillOpacity={PT_OPACITY} />
      ))}
      {pairs(blueCircles[i]).map(([a, b], k) => (
        <circle key={'bc' + k} cx={x(a)} cy={y(b)} r={3.3} fill={BLUE} fillOpacity={PT_OPACITY} />
      ))}
      {showSeg && <line x1={cx + dx * t} y1={cy + dy * t} x2={px} y2={py} stroke="#000" strokeWidth={1} />}
      <text x={cx} y={cy} textAnchor="middle" dominantBaseline="central" fontSize={14.7} fontFamily={FONT} fill="#000">{labelText}</text>
      <rect x={left} y={top} width={PANEL_W} height={PLOT_H} fill="none" stroke="#333333" strokeWidth={1.1} />
      {/* strip */}
      <rect x={left} y={stripTop} width={PANEL_W} height={STRIP_H} fill="#D9D9D9" stroke="#333333" strokeWidth={1.1} />
      <text x={(left + right) / 2} y={stripTop + STRIP_H / 2 + 0.5} textAnchor="middle" dominantBaseline="central" fontSize={12} fontFamily={FONT} fill="#1A1A1A">{facetTitles[i]}</text>
      {/* axes */}
      {xt.map((v) => (
        <g key={'xa' + v}>
          <line x1={x(v)} x2={x(v)} y1={bottom} y2={bottom + TICK} stroke="#333333" strokeWidth={1} />
          <text x={x(v)} y={bottom + 13.4} textAnchor="middle" fontSize={12} fontFamily={FONT} fill="#4D4D4D">{minus(String(v))}</text>
        </g>
      ))}
      {yt.map((v) => (
        <g key={'ya' + v}>
          <line x1={left - TICK} x2={left} y1={y(v)} y2={y(v)} stroke="#333333" strokeWidth={1} />
          <text x={left - TICK - 2.2} y={y(v)} textAnchor="end" dominantBaseline="central" fontSize={12} fontFamily={FONT} fill="#4D4D4D">{minus(v.toFixed(yTickDecimals[i]))}</text>
        </g>
      ))}
    </g>
  );
}

export default function App() {
  return (
    <div style={{ position: 'absolute', left: 0, top: 0, width: W, height: H, background: '#fff' }}>
      <svg width={W} height={H} viewBox={`0 0 ${W} ${H}`} style={{ display: 'block' }}>
        <rect x={0} y={0} width={W} height={H} fill="#FFFFFF" />
        {facetTitles.map((_, i) => <Facet key={i} i={i} />)}
        <text x={706} y={961} textAnchor="middle" fontSize={14.7} fontFamily={FONT} fill="#000">{xAxisTitle}</text>
        <text transform="translate(15,479) rotate(-90)" textAnchor="middle" dominantBaseline="central" fontSize={14.7} fontFamily={FONT} fill="#000">{yAxisTitle}</text>
      </svg>
    </div>
  );
}
